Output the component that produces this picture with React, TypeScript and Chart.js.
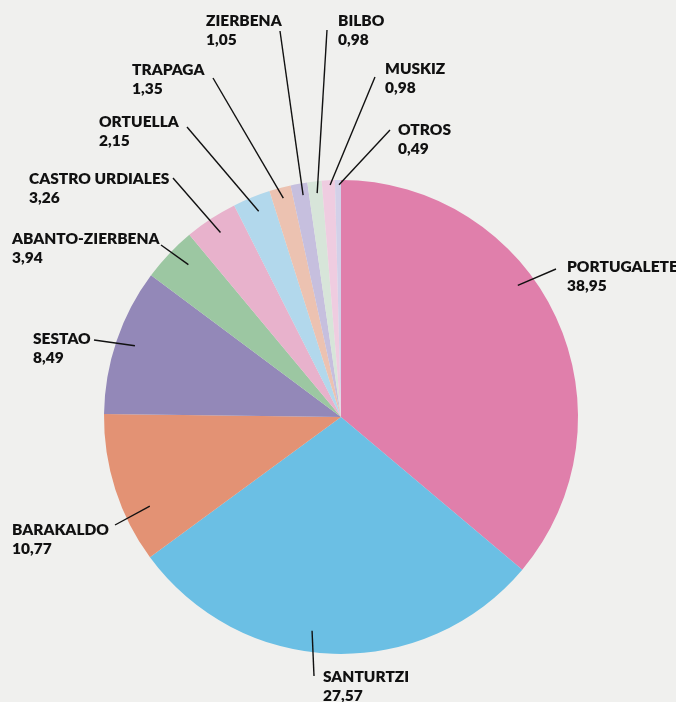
import { useEffect, useRef } from "react";
import { Chart, registerables } from "chart.js";
Chart.register(...registerables);

const categories = [
  "PORTUGALETE",
  "SANTURTZI",
  "BARAKALDO",
  "SESTAO",
  "ABANTO-ZIERBENA",
  "CASTRO URDIALES",
  "ORTUELLA",
  "TRAPAGA",
  "ZIERBENA",
  "BILBO",
  "MUSKIZ",
  "OTROS",
];
// Values printed on the labels
const labelValues = ["38,95", "27,57", "10,77", "8,49", "3,94", "3,26", "2,15", "1,35", "1,05", "0,98", "0,98", "0,49"];
// Slice sizes as drawn in the picture (percent of the circle)
const sliceShares = [36.14, 28.78, 10.28, 10.0, 3.75, 3.61, 2.56, 1.47, 1.14, 0.97, 0.89, 0.41];
const colors = [
  "#e07fab",
  "#6bbfe4",
  "#e39274",
  "#9388b8",
  "#9cc7a2",
  "#e8b2cc",
  "#b2d8ec",
  "#ecc2b1",
  "#c6bfde",
  "#d7e5d9",
  "#efcce0",
  "#d3d0e8",
];

// Label layout (annotations): text left x, name center y, leader end x/y,
// anchor fraction along the slice's arc, anchor radius fraction.
const labelX = [567, 323, 12, 33, 12, 29, 99, 132, 206, 338, 385, 398];
const labelY = [267, 677, 530, 339, 239, 179, 122, 70, 21, 21, 69, 130];
const leadEndX = [556, 314, 115, 94, 161, 173, 187, 213, 280, 327, 375, 390];
const leadEndY = [269, 676, 525, 340, 245, 178, 127, 78, 31, 30, 77, 130];
const anchorFrac = [0.41, 0.556, 0.305, 0.51, 0.61, 0.51, 0.54, 0.53, 0.63, 0.6, 0.62, 0.67];
const anchorRad = [0.93, 0.91, 0.89, 0.92, 0.91, 0.93, 0.935, 0.955, 0.95, 0.95, 0.98, 0.98];

const labelPlugin = {
  id: "leaderLabels",
  afterDatasetsDraw(chart: any) {
    const ctx = chart.ctx;
    const meta = chart.getDatasetMeta(0);
    ctx.save();
    meta.data.forEach((arc: any, i: number) => {
      const p = arc.getProps(["x", "y", "startAngle", "endAngle", "outerRadius"], true);
      const a = p.startAngle + anchorFrac[i] * (p.endAngle - p.startAngle);
      const r = anchorRad[i] * p.outerRadius;
      const sx = p.x + r * Math.cos(a);
      const sy = p.y + r * Math.sin(a);
      ctx.beginPath();
      ctx.moveTo(sx, sy);
      ctx.lineTo(leadEndX[i], leadEndY[i]);
      ctx.strokeStyle = "#111111";
      ctx.lineWidth = 1.4;
      ctx.stroke();
      ctx.fillStyle = "#111111";
      ctx.font = "800 15.5px Lato";
      ctx.textAlign = "left";
      ctx.textBaseline = "middle";
      ctx.fillText(categories[i], labelX[i], labelY[i]);
      ctx.fillText(labelValues[i], labelX[i], labelY[i] + 19);
    });
    ctx.restore();
  },
};

const bgPlugin = {
  id: "bg",
  beforeDraw(chart: any) {
    const ctx = chart.ctx;
    ctx.save();
    ctx.fillStyle = "#f0f0ee";
    ctx.fillRect(0, 0, chart.width, chart.height);
    ctx.restore();
  },
};

export default function App() {
  const ref = useRef<HTMLCanvasElement>(null);
  useEffect(() => {
    if (!ref.current) return;
    const chart = new Chart(ref.current, {
      type: "pie",
      data: {
        labels: categories,
        datasets: [
          {
            data: sliceShares,
            backgroundColor: colors,
            borderWidth: 0,
          },
        ],
      },
      options: {
        responsive: false,
        animation: false,
        layout: { padding: { left: 104, right: 98, top: 180, bottom: 48 } },
        plugins: {
          legend: { display: false },
          tooltip: { enabled: false },
        },
      },
      plugins: [bgPlugin, labelPlugin],
    });
    return () => chart.destroy();
  }, []);
  return (
    <div style={{ position: "absolute", left: 0, top: 0, width: 676, height: 702, background: "#f0f0ee" }}>
      <canvas ref={ref} width={676} height={702} style={{ display: "block" }} />
    </div>
  );
}
